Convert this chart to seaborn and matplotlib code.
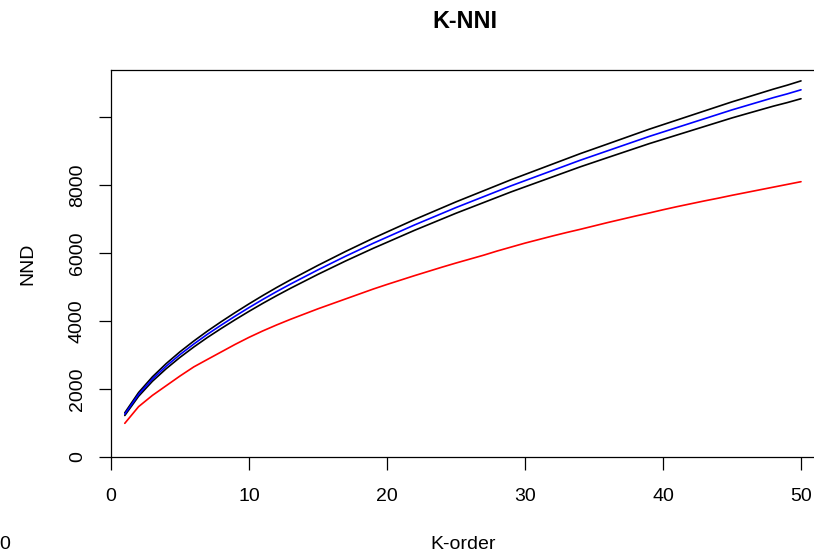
import matplotlib
matplotlib.use("Agg")
import matplotlib.pyplot as plt
import seaborn as sns
import pandas as pd

k_order = list(range(1, 51))

nnd_upper = [1300, 1895, 2355, 2745, 3092, 3408, 3704, 3980, 4245, 4500,
             4745, 4980, 5204, 5418, 5632, 5836, 6040, 6234, 6428, 6612,
             6795, 6978, 7151, 7324, 7497, 7660, 7823, 7986, 8149, 8302,
             8455, 8608, 8761, 8914, 9057, 9200, 9344, 9488, 9632, 9766,
             9900, 10034, 10168, 10302, 10436, 10560, 10685, 10810, 10926, 11052]

nnd_mean = [1260, 1840, 2290, 2670, 3010, 3320, 3610, 3880, 4140, 4390,
            4630, 4860, 5080, 5290, 5500, 5700, 5900, 6090, 6280, 6460,
            6640, 6820, 6990, 7160, 7330, 7490, 7650, 7810, 7970, 8120,
            8270, 8420, 8570, 8720, 8860, 9000, 9140, 9280, 9420, 9550,
            9680, 9810, 9940, 10070, 10200, 10320, 10440, 10560, 10670, 10790]

nnd_lower = [1220, 1785, 2225, 2595, 2928, 3232, 3516, 3780, 4035, 4280,
             4515, 4740, 4956, 5162, 5368, 5564, 5760, 5946, 6132, 6308,
             6485, 6662, 6829, 6996, 7163, 7320, 7477, 7634, 7791, 7938,
             8085, 8232, 8379, 8526, 8663, 8800, 8936, 9072, 9208, 9334,
             9460, 9586, 9712, 9838, 9964, 10080, 10195, 10310, 10414, 10528]

nnd_observed = [990, 1480, 1810, 2095, 2380, 2648, 2870, 3090, 3310, 3516,
                3705, 3880, 4045, 4200, 4355, 4500, 4645, 4790, 4935, 5070,
                5200, 5330, 5455, 5580, 5700, 5815, 5930, 6055, 6170, 6285,
                6390, 6495, 6595, 6690, 6790, 6890, 6985, 7080, 7170, 7265,
                7355, 7440, 7525, 7605, 7690, 7770, 7850, 7930, 8010, 8090]

y_ticks = [0, 2000, 4000, 6000, 8000, 10000]
y_tick_labels = ["0", "2000", "4000", "6000", "8000", ""]
x_ticks = [0, 10, 20, 30, 40, 50]

sns.set_style("ticks")
plt.rcParams["font.family"] = ["Liberation Sans", "DejaVu Sans"]
plt.rcParams["text.color"] = "black"
plt.rcParams["axes.labelcolor"] = "black"
plt.rcParams["xtick.color"] = "black"
plt.rcParams["ytick.color"] = "black"

df = pd.DataFrame({"k": k_order, "upper": nnd_upper, "mean": nnd_mean,
                   "lower": nnd_lower, "obs": nnd_observed})

W, H = 814, 555
fig = plt.figure(figsize=(W / 100, H / 100), dpi=100)
left_px, bottom_px, top_px = 111, 457, 70
x_max = 52.0
px_per_x = 13.8
ax = fig.add_axes([left_px / W, (H - bottom_px) / H,
                   x_max * px_per_x / W, (bottom_px - top_px) / H])

lw = 1.2
sns.lineplot(data=df, x="k", y="upper", color="black", lw=lw, ax=ax)
sns.lineplot(data=df, x="k", y="lower", color="black", lw=lw, ax=ax)
sns.lineplot(data=df, x="k", y="mean", color="#0000FF", lw=lw, ax=ax)
sns.lineplot(data=df, x="k", y="obs", color="#FF0000", lw=lw, ax=ax)

ax.set_xlim(0, x_max)
ax.set_ylim(0, 11372)
ax.set_xticks(x_ticks)
ax.set_xticklabels([str(v) for v in x_ticks])
ax.set_yticks(y_ticks)
ax.set_yticklabels(y_tick_labels, rotation=90, va="center")

ax.tick_params(axis="both", direction="out", length=9, width=0.9,
               labelsize=14, colors="black")
ax.tick_params(axis="x", pad=13)
ax.tick_params(axis="y", pad=9)

for s in ax.spines.values():
    s.set_color("black")
    s.set_linewidth(0.9)

ax.set_xlabel("")
ax.set_ylabel("NND", fontsize=14, labelpad=23.5, color="black")
fig.text(463 / W, 1 - 549 / H, "K-order", fontsize=14, color="black",
         ha="center", va="baseline")
fig.text(464.5 / W, 1 - 28 / H, "K-NNI", fontsize=16.8, fontweight="bold",
         color="black", ha="center", va="baseline")

fig.text(-1 / W, 1 - 549 / H, "0", fontsize=14, color="black",
         ha="left", va="baseline")

fig.savefig("out.png", dpi=100, facecolor="white")
